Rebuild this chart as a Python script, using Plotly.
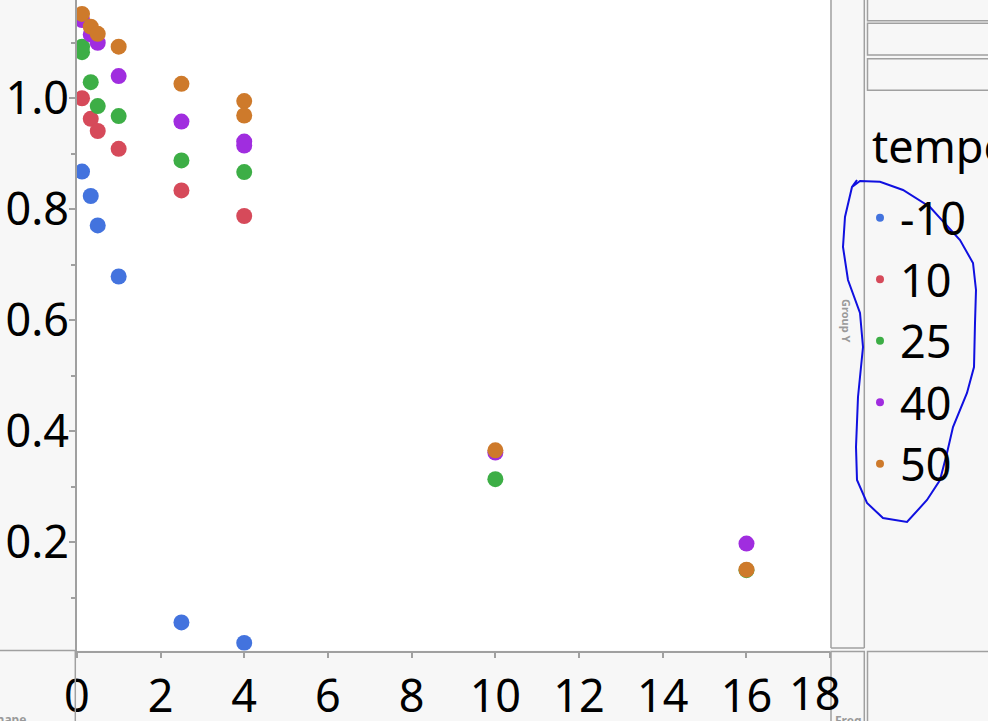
import plotly.graph_objects as go

W, H = 988, 721

def X(px):
    return px / W

def Y(py):
    return 1 - py / H

# ---------------- data ----------------
temps = ["-10", "10", "25", "40", "50"]
colors = ["#4373DE", "#D64A5A", "#3DAE46", "#A02DDF", "#CE7A2B"]

x_m10 = [0.125, 0.333, 0.5, 1, 2.5, 4]
y_m10 = [0.868, 0.824, 0.771, 0.679, 0.056, 0.019]

x_10 = [0.125, 0.333, 0.5, 1, 2.5, 4]
y_10 = [1.000, 0.963, 0.941, 0.909, 0.834, 0.788]

x_25 = [0.125, 0.125, 0.333, 0.5, 1, 2.5, 4, 10, 16]
y_25 = [1.093, 1.083, 1.029, 0.986, 0.968, 0.888, 0.867, 0.314, 0.150]

x_40 = [0.125, 0.333, 0.5, 1, 2.5, 4, 4, 10, 16]
y_40 = [1.141, 1.115, 1.100, 1.040, 0.958, 0.922, 0.915, 0.362, 0.198]

x_50 = [0.125, 0.333, 0.5, 1, 2.5, 4, 4, 10, 16]
y_50 = [1.152, 1.129, 1.116, 1.093, 1.026, 0.995, 0.969, 0.366, 0.151]

xs = [x_m10, x_10, x_25, x_40, x_50]
ys = [y_m10, y_10, y_25, y_40, y_50]

x_tickvals = [0, 2, 4, 6, 8, 10, 12, 14, 16, 18]
x_ticktext = ["0", "2", "4", "6", "8", "10", "12", "14", "16", ""]
y_tickvals = [0.2, 0.4, 0.6, 0.8, 1.0]
y_ticktext = ["0.2", "0.4", "0.6", "0.8", "1.0"]
legend_title = "temperature"

FONT = "Noto Sans"
GRAY = "#a0a0a0"
BG = "#f7f7f7"

fig = go.Figure()
for t, c, xv, yv in zip(temps, colors, xs, ys):
    fig.add_trace(go.Scatter(x=xv, y=yv, mode="markers", name=t, legendgroup=t,
                             showlegend=False,
                             marker=dict(size=16, color=c, line=dict(width=0))))
for t, c in zip(temps, colors):
    fig.add_trace(go.Scatter(x=[None], y=[None], mode="markers", name=t, legendgroup=t,
                             showlegend=True,
                             marker=dict(size=8, color=c, line=dict(width=0))))

shapes = []
def line(x0, y0, x1, y1):
    shapes.append(dict(type="line", xref="paper", yref="paper",
                       x0=X(x0), y0=Y(y0), x1=X(x1), y1=Y(y1),
                       line=dict(color=GRAY, width=1.5), layer="above"))
def rect(x0, y0, x1, y1):
    shapes.append(dict(type="rect", xref="paper", yref="paper",
                       x0=X(x0), y0=Y(y0), x1=X(x1), y1=Y(y1),
                       line=dict(color=GRAY, width=1.5), fillcolor="rgba(0,0,0,0)", layer="above"))

line(0, 650.5, 77, 650.5)
line(75.3, 650.5, 75.3, 730)
line(831, -5, 831, 648)
line(864.3, -5, 864.3, 648)
line(831, 648, 864.3, 648)
rect(831, 651.5, 864.3, 740)
rect(867.5, 651.5, 1000, 740)
rect(867.5, -10, 1000, 20.7)
rect(867.5, 23.3, 1000, 55)
rect(867.5, 58.7, 1000, 90.3)

# hand-drawn loop around legend
loop = [(852, 187), (860, 181), (880, 181.7), (903, 190), (930, 207), (960, 240), (973, 263),
        (976, 290), (975, 323), (974, 367), (967, 393), (953, 427), (947, 453), (940, 480),
        (927, 500), (907, 522), (883, 518), (867, 503), (857, 480), (856, 447), (858, 397),
        (863, 347), (860, 313), (848, 280), (843, 247), (845, 217), (852, 187), (857, 180)]
path = "M " + " L ".join(f"{X(a):.5f},{Y(b):.5f}" for a, b in loop)
shapes.append(dict(type="path", xref="paper", yref="paper", path=path,
                   line=dict(color="#1010E0", width=2), layer="above"))

annotations = [
    dict(text="18", x=18, xref="x", y=Y(660), yref="paper", xanchor="center", yanchor="top",
         xshift=-16, showarrow=False, font=dict(family=FONT, size=45, color="black")),
    dict(text=legend_title, x=X(870), y=Y(145), xref="paper", yref="paper", xanchor="left",
         yanchor="middle", showarrow=False, font=dict(family=FONT, size=45, color="black")),
    dict(text="<b>Group Y</b>", x=X(847), y=Y(320), xref="paper", yref="paper", textangle=90,
         xanchor="center", yanchor="middle",
         showarrow=False, font=dict(family=FONT, size=11, color="#9a9a9a")),
    dict(text="<b>Freq</b>", x=X(848), y=Y(710), xref="paper", yref="paper", xanchor="center",
         yanchor="top", showarrow=False, font=dict(family=FONT, size=12, color="#9a9a9a")),
    dict(text="<b>Shape</b>", x=X(28), y=Y(709), xref="paper", yref="paper", xanchor="right",
         yanchor="top", showarrow=False, font=dict(family=FONT, size=12, color="#9a9a9a")),
]

fig.update_layout(
    width=W, height=H,
    margin=dict(l=0, r=0, t=0, b=0, autoexpand=False),
    paper_bgcolor=BG, plot_bgcolor="white",
    font=dict(family=FONT, color="black"),
    showlegend=True,
    legend=dict(x=X(860), y=Y(182), xanchor="left", yanchor="top",
                bgcolor="rgba(0,0,0,0)", borderwidth=0,
                font=dict(family=FONT, size=45, color="black"),
                tracegroupgap=0, itemsizing="trace"),
    xaxis=dict(domain=[X(76.8), X(830.2)], range=[0, 18], tickvals=x_tickvals, ticktext=x_ticktext,
               showgrid=False, zeroline=False, showline=True, linecolor=GRAY, linewidth=1.5,
               ticks="outside", ticklen=6, tickcolor=GRAY, tickwidth=1.5,
               tickfont=dict(family=FONT, size=45, color="black"), anchor="y"),
    yaxis=dict(domain=[Y(650.5), 1], range=[0.0054, 1.177], tickvals=y_tickvals, ticktext=y_ticktext,
               showgrid=False, zeroline=False, showline=True, linecolor=GRAY, linewidth=1.5,
               ticks="outside", ticklen=6, tickcolor=GRAY, tickwidth=1.5,
               ticklabelstandoff=-9,
               minor=dict(tickvals=[0.1, 0.3, 0.5, 0.7, 0.9, 1.1], ticklen=4, tickcolor=GRAY,
                          tickwidth=1.5, ticks="outside"),
               tickfont=dict(family=FONT, size=45, color="black"), anchor="x"),
    shapes=shapes, annotations=annotations,
)

fig.write_html("out.html", config={"displayModeBar": False},
               post_script="document.body.style.margin='0';")
